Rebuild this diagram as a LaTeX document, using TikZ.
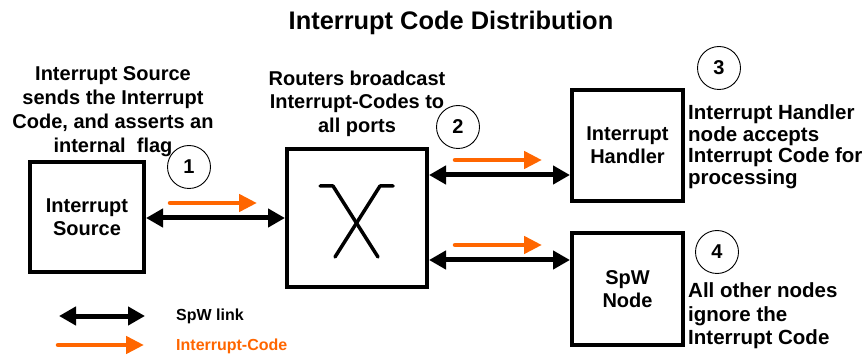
\documentclass[tikz,border=0pt]{standalone}
\usepackage{fontspec}
\setmainfont{Liberation Sans}
\usetikzlibrary{arrows.meta}
\definecolor{orng}{RGB}{255,102,0}
\begin{document}
\begin{tikzpicture}[x=1pt,y=-1pt,
 box/.style={draw,line width=4pt,inner sep=0pt,align=center,line join=miter,font=\fontsize{20}{23}\selectfont\bfseries},
 txt/.style={align=center,inner sep=0pt,font=\fontsize{20}{24}\selectfont\bfseries},
 num/.style={draw,circle,line width=0.9pt,minimum size=43pt,inner sep=0pt,font=\fontsize{20}{24}\selectfont\bfseries},
 link/.style={line width=5pt,{Triangle[length=17pt,width=18pt]}-{Triangle[length=17pt,width=18pt]}},
 icode/.style={orng,line width=4.5pt,line cap=round,-{Triangle[length=18pt,width=17pt]}},
 xsym/.style={line width=3.5pt,line cap=round,line join=round}]
\useasboundingbox (0,0) rectangle (865,358);

% title
\node[anchor=base,inner sep=0pt,font=\fontsize{25.4}{28}\selectfont\bfseries] (title) at (451,30) {Interrupt Code Distribution};

% boxes
\node[box,minimum width=114pt,minimum height=110pt] (src) at (87,217) {Interrupt\\Source};
\node[box,minimum width=140pt,minimum height=138pt] (rtr) at (357,218) {};
\node[box,minimum width=111pt,minimum height=111pt] (hdl) at (627.5,145.5) {Interrupt\\Handler};
\node[box,minimum width=111pt,minimum height=112pt] (spw) at (627.5,289) {SpW\\Node};

% router symbol
\draw[xsym] (320,186) -- (333,186) -- (378,257);
\draw[xsym] (393,186) -- (380,186) -- (335,257);

% descriptions
\node[txt,anchor=north] (d1) at (113,66.5) {Interrupt Source\\sends the Interrupt\\Code, and asserts an\\internal\ \ flag};
\node[txt,anchor=north,font=\fontsize{20}{23.5}\selectfont\bfseries] (d2) at (357,70.5) {Routers broadcast\\Interrupt-Codes to\\all ports};
\node[txt,anchor=north west,align=left,font=\fontsize{20.5}{21.5}\selectfont\bfseries] (d3) at (688,104.5) {Interrupt Handler\\node accepts\\Interrupt Code for\\processing};
\node[txt,anchor=north west,align=left,font=\fontsize{20.5}{23.5}\selectfont\bfseries] (d4) at (688,282.5) {All other nodes\\ignore the\\Interrupt Code};

% step numbers
\node[num] (n1) at (189,167) {1};
\node[num] (n2) at (458,127) {2};
\node[num] (n3) at (719,68) {3};
\node[num] (n4) at (717,252) {4};

% links
\draw[link] (src.east |- 0,218) -- (rtr.west |- 0,218);
\draw[link] (rtr.east |- 0,175) -- (hdl.west |- 0,175);
\draw[link] (rtr.east |- 0,260) -- (spw.west |- 0,260);

% interrupt code arrows
\coordinate (o1a) at (170,203); \coordinate (o1b) at (257,203);
\coordinate (o2a) at (455,160); \coordinate (o2b) at (542,160);
\coordinate (o3a) at (455,245); \coordinate (o3b) at (542,245);
\draw[icode] (o1a) -- (o1b);
\draw[icode] (o2a) -- (o2b);
\draw[icode] (o3a) -- (o3b);

% legend
\coordinate (l1a) at (59,316); \coordinate (l1b) at (145,316);
\coordinate (l2a) at (58,345); \coordinate (l2b) at (144,345);
\draw[link] (l1a) -- (l1b);
\draw[icode] (l2a) -- (l2b);
\node[anchor=base west,inner sep=0pt,font=\fontsize{16}{18}\selectfont\bfseries] (lg1) at (176,320) {SpW link};
\node[anchor=base west,inner sep=0pt,text=orng,font=\fontsize{16}{18}\selectfont\bfseries] (lg2) at (176,350) {Interrupt-Code};
\end{tikzpicture}
\end{document}
